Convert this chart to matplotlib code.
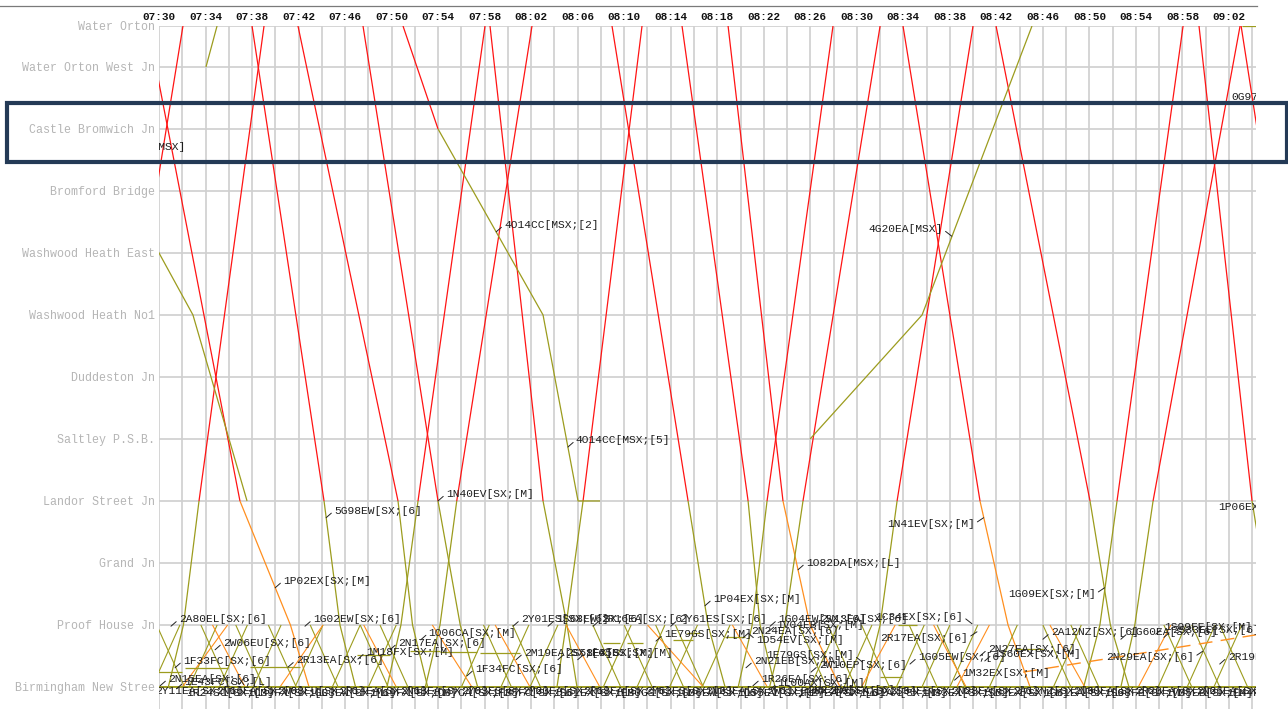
import numpy as np
import matplotlib
matplotlib.use("Agg")
import matplotlib.pyplot as plt
from matplotlib.patches import Rectangle
from matplotlib.lines import Line2D

# ---------------- stations (distance units, New Street = 0) ----------------
stations = ["Birmingham New Stree", "Proof House Jn", "Grand Jn", "Landor Street Jn",
            "Saltley P.S.B.", "Duddeston Jn", "Washwood Heath No1", "Washwood Heath East",
            "Bromford Bridge", "Castle Bromwich Jn", "Water Orton West Jn", "Water Orton"]
station_pos = [0, 1, 2, 3, 4, 5, 6, 7, 8, 9, 10, 10.66]
BNS, PHJ, LSJ, SPSB, WHN, WHE, CBJ, WOW, WO = 0, 1, 3, 4, 6, 7, 9, 10, 10.66

# times are minutes after 07:30
START_H, START_M = 7, 30
major_ticks = list(range(0, 93, 4))
minor_ticks = list(range(2, 95, 4))

# ---------------- through trains: Water Orton -> New Street ----------------
down_ids = ["1P02EX", "5G98EW", "2A10EE", "1N40EV", "1H22EB", "1P04EX",
            "1E72FX", "1O82DA", "1N41EV", "1G09EX", "1P06EX", "0G97EA"]
down_wo = [-0.95, 8.0, 11.95, 17.54, 28.46, 38.95, 44.97, 48.93, 63.97, 71.97, 89.42, 93.04]
down_lsj = [6.96, 14.19, 20.55, 23.99, 33.02, 45.49, 50.65, 53.65, 70.59, 80.05, 93.98, 99.4]
down_phj = [11.3, 15.56, 21.8, 25.9, 35.08, 47.21, 51.68, 55.98, 73.0, 81.8, 95.7, 101.5]
down_bns = [12.9, 16.9, 23.1, 27.4, 35.94, 48.67, 52.97, 58.56, 74.89, 83.4, 97.0, 103.0]
down_lower = ["P", "S", "S", "S", "S", "S", "S", "P", "P", "S", "S", "S"]

# ---------------- through trains: New Street -> Water Orton ----------------
up_bns = [-7.5, 0.8, 19.6, 22.9, 34.22, 49.8, 52.5, 60.7, 79.5, 82.7]
up_phj = [-6.0, 2.1, 20.8, 24.16, 35.0, 51.0, 53.8, 62.0, 80.9, 83.9]
up_lsj = [-4.56, 3.44, 22.27, 25.6, 36.46, 52.28, 55.37, 63.46, 82.37, 85.47]
up_wo = [2.06, 9.03, 28.03, 32.07, 41.53, 57.95, 62.0, 69.99, 88.05, 92.95]

# ---------------- freights / other paths ----------------
f4o14_t = [20.98, 23.99, 33.02, 36.03, 37.92]
f4o14_d = [WO, CBJ, WHN, LSJ, LSJ]
f4g20_t = [55.98, 65.61, 75.06]
f4g20_d = [SPSB, WHN, WO]
whe_t = [-2.5, 0.0, 2.92, 7.57]
whe_d = [7.84, 7.0, 6.0, 3.0]
wow_t = [4.04, 4.99]
wow_d = [WOW, WO]
g97_t = [93.1, 94.3]
g97_d = [WO, WO]

# ---------------- Proof House Jn <-> New Street shuttles ----------------
sh_dn_phj = [-0.2, 3.6, 6.6, 9.4, 13.0, 17.3, 19.0, 27.9, 30.4, 37.3, 40.0, 42.7,
             44.4, 55.0, 57.5, 60.4, 64.5, 66.9, 76.0, 78.4, 86.4, 88.8, 91.2]
sh_dn_bns = [2.2, 6.0, 9.0, 11.8, 15.4, 19.7, 21.4, 30.3, 32.8, 39.7, 42.4, 45.1,
             46.8, 57.4, 59.9, 62.8, 66.9, 69.3, 78.4, 80.8, 88.8, 91.2, 93.6]
sh_up_bns = [-0.6, 2.6, 5.2, 8.1, 11.7, 14.9, 18.0, 26.0, 29.4, 31.9, 38.2, 41.1,
             43.9, 46.7, 56.0, 58.9, 63.4, 65.6, 68.0, 71.4, 76.9, 85.9, 88.4, 90.7]
sh_up_phj = [1.8, 5.0, 7.6, 10.5, 14.1, 17.3, 20.4, 28.4, 31.8, 34.3, 40.6, 43.5,
             46.3, 49.1, 58.4, 61.3, 65.8, 68.0, 70.4, 73.8, 79.3, 88.3, 90.8, 93.1]
or_dn_phj = [4.6, 17.6, 23.5, 28.9, 35.0, 42.0, 49.3, 66.6, 76.6]
or_dn_bns = [7.4, 20.4, 26.9, 31.9, 37.9, 46.8, 52.3, 69.4, 79.6]
or_up_bns = [2.0, 10.4, 60.4, 68.6, 84.2]
or_up_phj = [5.9, 14.1, 63.3, 71.4, 87.0]

# platform / standing moves
hz_start = [-0.5, 2.2, 7.8, 17.0, 21.6, 24.2, 27.6, 38.2, 40.2, 44.2, 45.4, 48.7, 63.5, 62.0, 73.5]
hz_end = [2.0, 5.9, 12.1, 19.9, 24.2, 27.3, 31.0, 39.6, 41.6, 45.9, 46.5, 50.4, 65.2, 63.9, 76.0]
hz_pos = [0.24, 0.31, 0.32, 0.52, 0.58, 0.57, 0.55, 0.71, 0.71, 0.76, 0.87, 0.80, 1.0, 0.16, 0.62]
platform_t = [-1.0, 95.0]
slow_t = [74.3, 94.3]
slow_d = [0.24, 0.84]

# ---------------- labels ----------------
lab_text = ["4O14CC[MSX;[2]", "4O14CC[MSX;[5]", "1N40EV[SX;[M]", "5G98EW[SX;[6]",
            "1P02EX[SX;[M]", "1O82DA[MSX;[L]", "1P04EX[SX;[M]", "2A80EL[SX;[6]",
            "1G02EW[SX;[6]", "2W06EU[SX;[6]", "1F33FC[SX;[6]", "2R13EA[SX;[6]",
            "1M18FX[SX;[M]", "2N17EA[SX;[6]", "1O06CA[SX;[M]", "2M19EA[SX;[6]",
            "1F34FC[SX;[6]", "2Y01ES[SX;[6]", "1S68EW[SX;[6]", "2R16EA[SX;[6]",
            "2Y61ES[SX;[6]", "1E79GS[SX;[M]", "2S58EX[SX;[M]", "1F45BS[SX;[M]",
            "1G04EW[SX;[6]", "2W13EA[SX;[6]", "2N24EA[SX;[6]", "1V04EB[SX;[M]",
            "1D54EV[SX;[M]", "2N21EB[SX;[A]", "2W10EP[SX;[6]", "1R26EA[SX;[6]",
            "1L00AX[SX;[M]", "2N22EA[SX;[6]", "1G05EW[SX;[6]", "2N27EA[SX;[6]",
            "1S60EX[SX;[M]", "1M32EX[SX;[M]", "2A12NZ[SX;[6]", "1G60EA[SX;[6]",
            "1S99FE[SX;[M]", "2S33EE[SX;[6]", "2R19EA[SX;[6]", "2N15EA[SX;[6]",
            "1E43FC[SX;[L]",
            "4G20EA[MSX]", "1N41EV[SX;[M]", "1G09EX[SX;[M]", "2R17EA[SX;[6]",
            "1C34EX[SX;[6]", "2N29EA[SX;[6]", "1E79GS[SX;[M]"]
lab_t = [28.99, 35.16, 23.99, 14.37, 9.99, 54.94, 46.94, 1.03,
         12.55, 4.82, 1.38, 11.09, 17.1, 19.86, 22.5, 30.7,
         26.48, 30.44, 33.45, 37.32, 44.0, 42.73, 34.3, 36.0,
         52.54, 56.2, 50.2, 52.4, 50.65, 50.47, 56.06, 51.07,
         52.5, 55.03, 64.57, 70.59, 71.0, 68.4, 76.0, 82.7,
         85.7, 86.4, 91.2, 0.1, 1.5,
         68.16, 70.9, 81.3, 70.33, 69.9, 89.77, 60.5]
lab_d = [7.34, 3.87, 3.0, 2.73, 1.6, 1.89, 1.31, 0.98,
         0.98, 0.6, 0.31, 0.32, 0.45, 0.6, 0.76, 0.44,
         0.18, 0.98, 0.98, 0.98, 0.98, 0.74, 0.44, 0.44,
         0.98, 0.98, 0.79, 0.89, 0.87, 0.31, 0.24, 0.02,
         -0.05, -0.16, 0.37, 0.5, 0.42, 0.11, 0.77, 0.77,
         0.85, 0.8, 0.37, 0.02, -0.03,
         7.27, 2.73, 1.6, 0.89, 1.02, 0.58, 0.4]
lab_side = ["R"] * 28 + ["RD"] + ["R"] * 16 + ["LU", "L", "L", "L", "LU", "L", "LU"]

free_text = ["4O12CC[MSX]", "2N13EA[SX;[6]", "0G97EA[MSX]", "1P06EX[SX;[M]"]
free_t = [-4.1, -7.5, 92.2, 91.06]
free_d = [8.71, 1.11, 9.52, 2.9]

bottom_text = ["2Y11EA[SX;[6]", "1R24SC[SX;[M]", "2N16EA[SX;[6]", "1C39FX[SX;[L]",
               "2W08EU[SX;[6]", "1G03EW[SX;[6]", "2R14EA[SX;[6]", "1M19FX[SX;[M]",
               "2N18EA[SX;[6]", "1O07CA[SX;[M]", "2Y03ES[SX;[6]", "1F35FC[SX;[6]",
               "2M20EA[SX;[6]", "1S61EX[SX;[M]", "2R18EA[SX;[6]", "1E80GS[SX;[M]",
               "2Y63ES[SX;[6]", "1G06EW[SX;[6]", "2N23EA[SX;[6]", "1D55EV[SX;[M]",
               "2W11EP[SX;[6]", "1R27EA[SX;[6]", "2N25EA[SX;[6]", "1L01AX[SX;[M]",
               "2S34EE[SX;[6]", "1M33EX[SX;[M]", "2N28EA[SX;[6]", "1S62EX[SX;[M]",
               "2A13NZ[SX;[6]", "1G61EA[SX;[6]", "2N30EA[SX;[6]", "1S98FE[SX;[M]",
               "2R20EA[SX;[6]", "1V05EB[SX;[M]", "2N26EA[SX;[6]", "1E44FC[SX;[L]"]
bottom_t = [-0.3, 2.3, 4.9, 7.6, 10.2, 12.8, 15.5, 18.1, 20.7, 23.4, 26.0, 28.6,
            31.2, 33.9, 36.5, 39.1, 41.8, 44.4, 47.0, 49.7, 52.3, 54.9, 57.6, 60.2,
            62.8, 65.5, 68.1, 70.7, 73.4, 76.0, 78.6, 81.3, 83.9, 86.5, 89.2, 91.8]

# ---------------- styling ----------------
COL = {"F": "#ff1414", "S": "#9c9c1e", "P": "#ff8f1f"}
MONO = ["Liberation Mono", "DejaVu Sans Mono"]
GRID = "#d0d0d0"

W, H, DPI = 1288, 709, 100
fig = plt.figure(figsize=(W / DPI, H / DPI), dpi=DPI)
fig.patch.set_facecolor("white")
ax = fig.add_axes([159 / W, 0, (1256 - 159) / W, (709 - 26) / H])
ax.set_xlim(0, 94.32)
ax.set_ylim(-0.355, 10.66)
for sp in ax.spines.values():
    sp.set_visible(False)

ax.set_xticks(major_ticks)
ax.set_xticks(minor_ticks, minor=True)
ax.set_xticklabels(["%02d:%02d" % divmod(START_H * 60 + START_M + m, 60) for m in major_ticks])
ax.xaxis.tick_top()
ax.tick_params(axis="x", which="both", length=0, pad=2.6, labelsize=7.9, colors="#111111")
for lb in ax.get_xticklabels():
    lb.set_fontweight("bold")
    lb.set_family(MONO)
ax.set_yticks(station_pos)
ax.set_yticklabels(stations)
ax.tick_params(axis="y", length=0, pad=3.0, labelsize=8.4, colors="#b5b5b5")
for lb in ax.get_yticklabels():
    lb.set_family(MONO)
ax.set_axisbelow(True)
ax.grid(True, which="both", axis="x", color=GRID, lw=1.25)
ax.grid(True, which="major", axis="y", color=GRID, lw=1.25)


def path(ts, ds, cls, lw=0.9, **kw):
    ax.plot(ts, ds, color=COL[cls], lw=lw, solid_capstyle="butt", zorder=3, **kw)


# through trains
for wo, lsj, phj, bns, cls in zip(down_wo, down_lsj, down_phj, down_bns, down_lower):
    path([wo, lsj], [WO, LSJ], "F")
    path([lsj, phj, bns], [LSJ, PHJ, BNS], cls)
for bns, phj, lsj, wo in zip(up_bns, up_phj, up_lsj, up_wo):
    path([bns, phj, lsj], [BNS, PHJ, LSJ], "S")
    path([lsj, wo], [LSJ, WO], "F")

# freights
path(f4o14_t[:2], f4o14_d[:2], "F")
path(f4o14_t[1:], f4o14_d[1:], "S")
path(f4g20_t, f4g20_d, "S")
path(whe_t, whe_d, "S")
path(wow_t, wow_d, "S")
path(g97_t, g97_d, "S")

# shuttles
for a, b in zip(sh_dn_phj, sh_dn_bns):
    path([a, b], [PHJ, BNS], "S", lw=0.8)
for a, b in zip(sh_up_bns, sh_up_phj):
    path([a, b], [BNS, PHJ], "S", lw=0.8)
for a, b in zip(or_dn_phj, or_dn_bns):
    path([a, b], [PHJ, BNS], "P", lw=0.8)
for a, b in zip(or_up_bns, or_up_phj):
    path([a, b], [BNS, PHJ], "P", lw=0.8)
for a, b, d in zip(hz_start, hz_end, hz_pos):
    path([a, b], [d, d], "S", lw=0.9)
path(platform_t, [BNS, BNS], "S", lw=1.4)
path(slow_t, slow_d, "P", lw=1.0, dashes=(10, 6))

# labels with leader lines
OFFS = {"R": (8, 7, "left", (0, 0.5)), "RD": (8, -7, "left", (0, 0.5)),
        "L": (-9, -6, "right", (1, 0.5)), "LU": (-9, 7, "right", (1, 0.5))}
for txt, t, d, s in zip(lab_text, lab_t, lab_d, lab_side):
    dx, dy, ha, rp = OFFS[s]
    ax.annotate(txt, xy=(t, d), xytext=(dx, dy), textcoords="offset pixels",
                ha=ha, va="center", fontsize=8.1, family=MONO, color="#1e1e1e",
                clip_on=True, annotation_clip=False, zorder=5,
                arrowprops=dict(arrowstyle="-", lw=0.7, color="#222222",
                                shrinkA=0, shrinkB=0, relpos=rp))
for txt, t, d in zip(free_text, free_t, free_d):
    ha = "right" if txt.startswith("2N13") else "left"
    ax.text(t if ha == "left" else 0.15, d, txt, ha=ha, va="center", fontsize=8.1,
            family=MONO, color="#1e1e1e", clip_on=True, zorder=5)
for i, (txt, t) in enumerate(zip(bottom_text, bottom_t)):
    ax.text(t, -0.06 if i % 2 == 0 else -0.1, txt, ha="left", va="center", fontsize=8.1,
            family=MONO, color="#1e1e1e", clip_on=True, zorder=5)

# frame decorations
fig.add_artist(Line2D([0, 1257 / W], [1 - 6 / H, 1 - 6 / H], color="#7a7a7a", lw=0.9))
fig.add_artist(Rectangle((7 / W, 1 - 162 / H), (1287 - 7) / W, (162 - 103) / H,
                         transform=fig.transFigure, fill=False, ec="#243a56", lw=3.0,
                         zorder=10))

fig.savefig("out.png", dpi=DPI)
